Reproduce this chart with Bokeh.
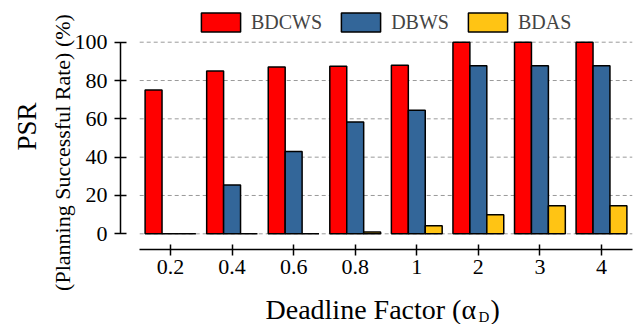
import math
from bokeh.plotting import figure
from bokeh.models import (Range1d, FixedTicker, Legend, LegendItem, Label, ColumnDataSource)
from bokeh.embed import file_html
from bokeh.resources import INLINE

# ---- data ----
categories = ["0.2", "0.4", "0.6", "0.8", "1", "2", "3", "4"]
bdcws = [75, 85, 87, 87.5, 88, 100, 100, 100]
dbws = [0, 25.5, 43, 58.3, 64.5, 87.7, 87.7, 87.7]
bdas = [0, 0, 0, 1, 4.2, 10, 14.7, 14.7]
series_names = ["BDCWS", "DBWS", "BDAS"]
series_colors = ["#FF0000", "#336699", "#FFC414"]
y_ticks = [0, 20, 40, 60, 80, 100]

# ---- layout (frame covers the whole canvas; axes sit at fixed locations) ----
W, H = 638, 324
XPX = 61.57          # px per category
X_FIRST_PX = 170.0   # px of first category centre
YPX = 1.916          # px per percent
Y_ZERO_PX = 233.3    # px of value 0
X0 = 1 - X_FIRST_PX / XPX
X1 = 1 + (W - X_FIRST_PX) / XPX
Y0 = -(H - Y_ZERO_PX) / YPX
Y1 = Y_ZERO_PX / YPX
FONT = "Liberation Serif"


def cx(px):
    return 1 + (px - X_FIRST_PX) / XPX


def cy(py):
    return (Y_ZERO_PX - py) / YPX


p = figure(width=W, height=H, x_range=Range1d(X0, X1), y_range=Range1d(Y0, Y1),
           output_backend="svg", toolbar_location=None,
           min_border_left=0, min_border_right=0, min_border_top=0,
           min_border_bottom=0)
p.grid.visible = False
p.outline_line_color = None
p.background_fill_color = "white"
p.border_fill_color = "white"

n = len(categories)
# dashed grid lines across category region
p.segment(x0=[0.5] * len(y_ticks), y0=y_ticks, x1=[n + 0.5] * len(y_ticks), y1=y_ticks,
          line_color="#9a9a9a", line_dash="4 3", line_width=1)

bw = 0.275
offsets = [-bw, 0, bw]
renderers = []
for vals, off, col in zip([bdcws, dbws, bdas], offsets, series_colors):
    src = ColumnDataSource(dict(x=[i + 1 + off for i in range(n)], top=vals))
    r = p.vbar(x="x", top="top", width=bw, bottom=0, source=src, fill_color=col,
               line_color="black", line_width=1.5)
    renderers.append(r)

# axes
xa = p.xaxis[0]
xa.ticker = FixedTicker(ticks=list(range(1, n + 1)))
xa.major_label_overrides = {i + 1: c for i, c in enumerate(categories)}
xa.bounds = (0.5, n + 0.5)
xa.fixed_location = cy(249)
xa.major_tick_in = 5
xa.major_tick_out = 6
xa.major_label_standoff = 4
ya = p.yaxis[0]
ya.ticker = FixedTicker(ticks=y_ticks)
ya.bounds = (0, 100)
ya.fixed_location = cx(120)
ya.major_tick_in = 6
ya.major_tick_out = 6
ya.major_label_standoff = 7
for ax in (xa, ya):
    ax.minor_tick_line_color = None
    ax.axis_line_width = 1.5
    ax.major_tick_line_width = 1.5
    ax.axis_line_color = "black"
    ax.major_tick_line_color = "black"
    ax.major_label_text_font = FONT
    ax.major_label_text_font_size = "22px"
    ax.major_label_text_color = "black"

legend = Legend(items=[LegendItem(label=nm, renderers=[r]) for nm, r in zip(series_names, renderers)],
                orientation="horizontal", location=(196, H - 34),
                glyph_width=49, glyph_height=24, label_text_font=FONT,
                label_text_font_size="20px", label_standoff=6, spacing=14,
                padding=0, margin=0, border_line_color=None, background_fill_alpha=0)
p.add_layout(legend)

# y labels
p.add_layout(Label(x=cx(26), y=cy(126), text="PSR", angle=math.pi / 2,
                   text_align="center", text_baseline="middle",
                   text_font=FONT, text_font_size="27px", text_color="black"))
p.add_layout(Label(x=cx(62), y=cy(152), text="(Planning Successful Rate) (%)", angle=math.pi / 2,
                   text_align="center", text_baseline="middle",
                   text_font=FONT, text_font_size="22px", text_color="black"))
# x label
p.add_layout(Label(x=cx(265), y=cy(309), text="Deadline Factor (\u03b1",
                   text_align="left", text_baseline="alphabetic",
                   text_font=FONT, text_font_size="28px", text_color="black"))
p.add_layout(Label(x=cx(478), y=cy(316), text="D",
                   text_align="left", text_baseline="alphabetic",
                   text_font=FONT, text_font_size="15px", text_color="black"))
p.add_layout(Label(x=cx(490), y=cy(309), text=")",
                   text_align="left", text_baseline="alphabetic",
                   text_font=FONT, text_font_size="28px", text_color="black"))

open("out.html", "w").write(file_html(p, INLINE))
